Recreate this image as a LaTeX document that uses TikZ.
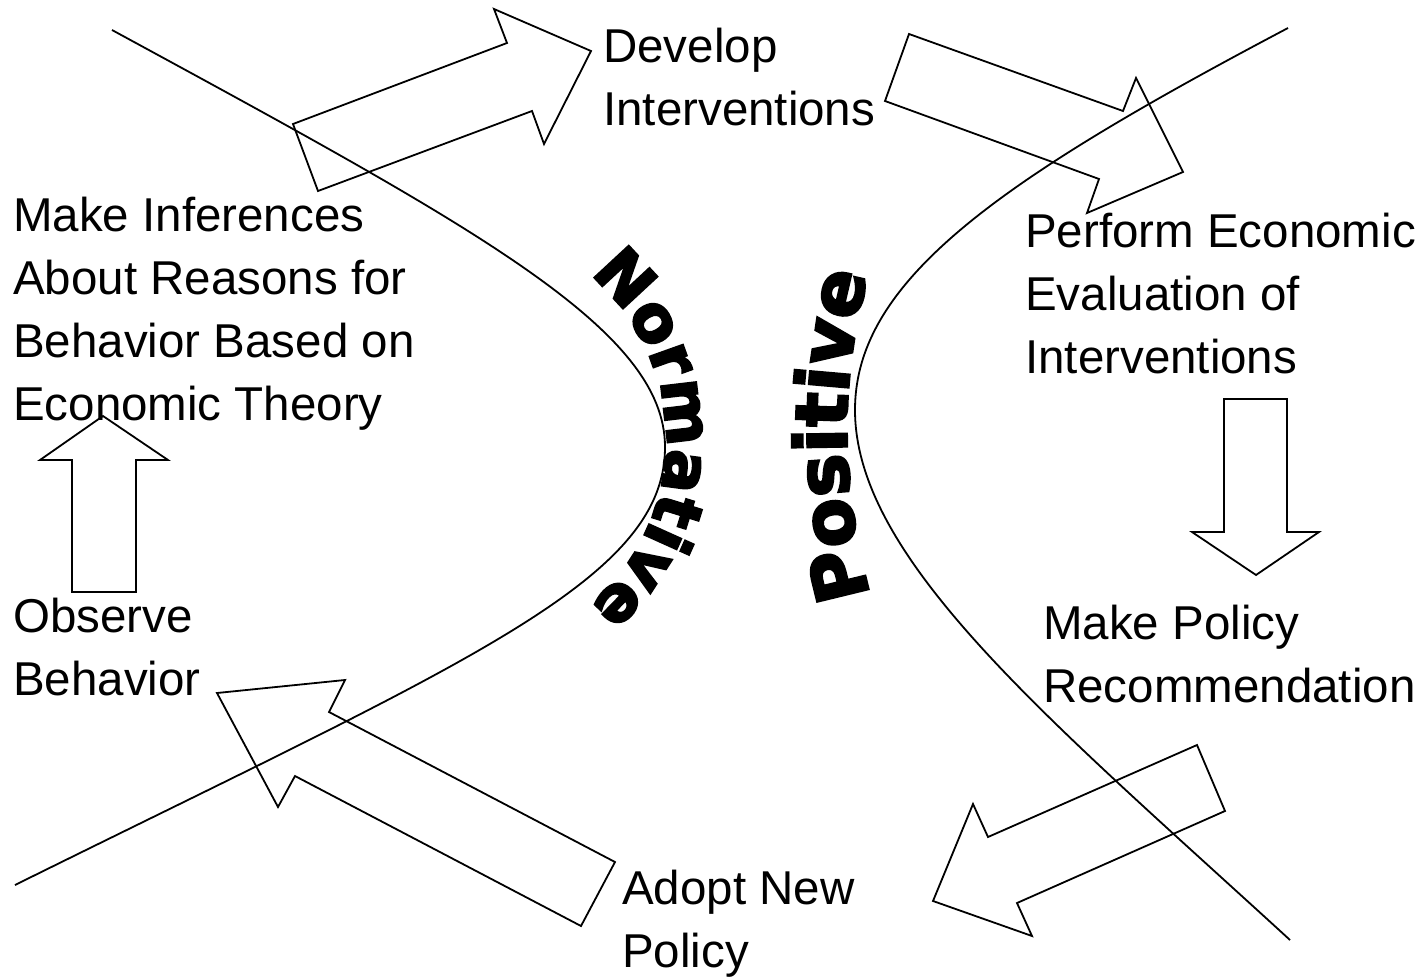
\documentclass[tikz,border=0pt]{standalone}
\usepackage{fontspec}
\setmainfont{Liberation Sans}
\newfontfamily\heavyfont[FakeBold=3.5]{DejaVu Sans Bold}
\usetikzlibrary{decorations.text}
\tikzset{
  lbl/.style={inner sep=0pt, anchor=base west, align=left,
              font=\fontsize{47.5}{63}\selectfont},
  barrow/.style={draw, line width=1.8pt, line join=miter},
  divide/.style={draw, line width=1.8pt},
}

\begin{document}
\begin{tikzpicture}[x=1pt, y=-1pt]
  \useasboundingbox (0,0) rectangle (1424,977);

  % the two dividing curves
  \draw[divide] (112,30) .. controls (480,230) and (665,330) .. (665,447)
                         .. controls (665,580) and (470,660) .. (15,885);
  \draw[divide] (1288,28) .. controls (1000,180) and (855,280) .. (855,410)
                          .. controls (855,560) and (1050,720) .. (1290,940);

  % arched words
  \path[decorate, decoration={text along path, text align=center,
        text={|\heavyfont\fontsize{64}{64}\selectfont|Normative}}]
    (573,262) .. controls (697,348) and (697,532) .. (573,618);
  \path[decorate, decoration={text along path, text align=center,
        text={|\heavyfont\fontsize{72}{72}\selectfont|Positive}}]
    (885,640) .. controls (835,503) and (834,367) .. (882,230);

  % steps of the cycle (placed at the baseline of their last line)
  \node[lbl] (develop)   at (603,125)  {Develop\\Interventions};
  \node[lbl] (evaluate)  at (1025,373) {Perform Economic\\Evaluation of\\Interventions};
  \node[lbl] (recommend) at (1043,702) {Make Policy\\Recommendation};
  \node[lbl] (adopt)     at (622,967)  {Adopt New\\Policy};
  \node[lbl] (observe)   at (13,695)   {Observe\\Behavior};
  \node[lbl] (infer)     at (13,420)   {Make Inferences\\About Reasons for\\Behavior Based on\\Economic Theory};

  % block arrows between the steps
  \draw[barrow] (293,124) -- (507,43) -- (494,9) -- (591,51) -- (544,144) -- (532,111) -- (318,191) -- cycle;
  \draw[barrow] (909,34) -- (1123,111) -- (1136,78) -- (1183,172) -- (1087,213) -- (1099,179) -- (885,101) -- cycle;
  \draw[barrow] (1224,399) -- (1287,399) -- (1287,532) -- (1319,532) -- (1256,575) -- (1192,532) -- (1224,532) -- cycle;
  \draw[barrow] (1197,745) -- (1225,811) -- (1017,903) -- (1032,936) -- (933,901) -- (973,804) -- (988,837) -- cycle;
  \draw[barrow] (615,862) -- (329,712) -- (345,680) -- (217,693) -- (278,807) -- (295,776) -- (581,926) -- cycle;
  \draw[barrow] (72,592) -- (72,460) -- (40,460) -- (103,416) -- (168,460) -- (136,460) -- (136,592) -- cycle;
\end{tikzpicture}
\end{document}
